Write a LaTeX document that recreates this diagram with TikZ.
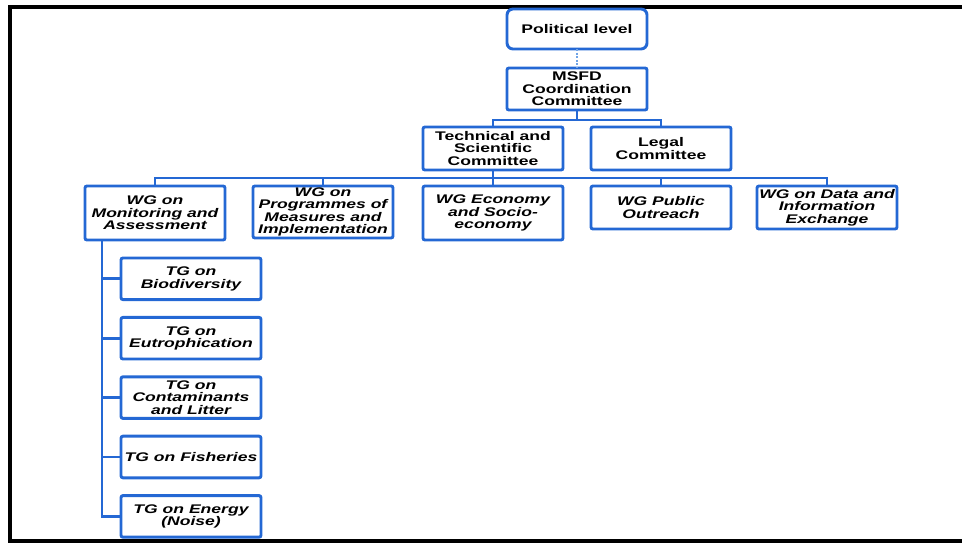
\documentclass[tikz,border=0pt]{standalone}
\usepackage{fontspec}
\newfontfamily\orgfont[FakeStretch=1.4]{Liberation Sans}
\usepackage{xcolor}
\usepackage{tikz}
\usetikzlibrary{positioning, arrows.meta}
\definecolor{orgblue}{HTML}{2468D4}
\definecolor{orgdot}{HTML}{6FA3E6}

\begin{document}
\begin{tikzpicture}[
  node distance=13.35pt,
  toplvl/.style={
    rectangle, rounded corners=1.5pt, draw=orgblue, line width=2.2pt, fill=white,
    minimum width=105pt, minimum height=31.5pt, inner sep=1pt, outer sep=0pt,
    font=\orgfont\fontsize{9.4}{9.3}\selectfont\bfseries, align=center
  },
  wg/.style={
    toplvl, font=\orgfont\fontsize{9.4}{9.3}\selectfont\bfseries\itshape
  },
  tg/.style={wg, minimum height=31.2pt},
  conn/.style={draw=orgblue, line width=2.2pt},
  dotconn/.style={draw=orgdot, line width=2.2pt, dash pattern=on 1.5pt off 1.2pt},
]
\useasboundingbox (0,0) rectangle (721.5pt,-407.25pt);

% Frame
\draw[line width=3pt] (721.5pt,-5.25pt) -- (7.5pt,-5.25pt) -- (7.5pt,-406pt) -- (721.5pt,-406pt);

% Committees
\node[toplvl, rounded corners=4.5pt, minimum height=30pt, anchor=north] (pol) at (432.75pt,-6.75pt) {Political level};
\node[toplvl, below=14.25pt of pol] (msfd) {MSFD\\Coordination\\Committee};
\node[toplvl, minimum height=32.25pt, below=12.75pt of msfd.south west, anchor=north west, xshift=-63pt] (tsc) {Technical and\\Scientific\\Committee};
\node[toplvl, minimum height=32.25pt, right=21pt of tsc] (legal) {Legal\\Committee};

% Working groups
\node[wg, minimum height=40.5pt, below=12pt of tsc] (econ) {WG Economy\\and Socio-\\economy};
\node[wg, minimum height=39pt, left=22.5pt of econ.north west, anchor=north east] (prog) {WG on\\Programmes of\\Measures and\\Implementation};
\node[wg, minimum height=40.5pt, left=21pt of prog.north west, anchor=north east] (mon) {WG on\\Monitoring and\\Assessment};
\node[wg, minimum height=32.25pt, right=21pt of econ.north east, anchor=north west] (pub) {WG Public\\Outreach};
\node[wg, minimum height=32.25pt, right=19.5pt of pub.north east, anchor=north west] (data) {WG on Data and\\Information\\Exchange};

% Technical groups
\node[tg, below=13.5pt of mon.south west, anchor=north west, xshift=27pt] (tgbio) {TG on\\Biodiversity};
\node[tg, below=of tgbio] (tgeut) {TG on\\Eutrophication};
\node[tg, below=of tgeut] (tgcon) {TG on\\Contaminants\\and Litter};
\node[tg, below=of tgcon] (tgfish) {TG on Fisheries};
\node[tg, below=of tgfish] (tgnrg) {TG on Energy\\(Noise)};

% Links between levels
\draw[dotconn] (pol) -- (msfd);
\draw[conn] (msfd.south) -- ++(0,-7.5pt) -| (tsc.north);
\draw[conn] (msfd.south) -- ++(0,-7.5pt) -| (legal.north);

\draw[conn] (tsc.south) -- ++(0,-6pt) -| (mon.north);
\draw[conn] (tsc.south) -- ++(0,-6pt) -| (prog.north);
\draw[conn] (tsc.south) -- (econ.north);
\draw[conn] (tsc.south) -- ++(0,-6pt) -| (pub.north);
\draw[conn] (tsc.south) -- ++(0,-6pt) -| (data.north);

\coordinate (trunk) at ([xshift=12.75pt]mon.south west);
\draw[conn] (trunk) |- (tgbio.west);
\draw[conn] (trunk) |- (tgeut.west);
\draw[conn] (trunk) |- (tgcon.west);
\draw[conn] (trunk) |- (tgfish.west);
\draw[conn] (trunk) |- (tgnrg.west);

\end{tikzpicture}
\end{document}
